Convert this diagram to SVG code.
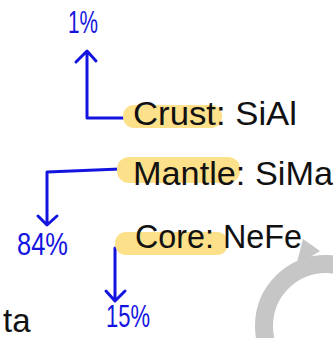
<svg xmlns="http://www.w3.org/2000/svg" width="333" height="338" viewBox="0 0 333 338">
<style>
.hl{fill:#fde08a}
.lbl{font-family:"Liberation Sans",Arial,sans-serif;font-size:33px;fill:#111}
.pct{font-family:"Liberation Sans",Arial,sans-serif;font-size:31px;fill:#1414e0}
.con{fill:none;stroke:#1414e0;stroke-width:3;stroke-linecap:round;stroke-linejoin:round}
</style>
<rect width="333" height="338" fill="#ffffff"/>
<g id="watermark" fill="#c6c6c6">
<path d="M303,239 L320,251 L296,266 Z"/>
<circle cx="326" cy="326" r="62" fill="none" stroke="#c6c6c6" stroke-width="18"/>
</g>
<g id="connectors">
<path class="con" d="M135,118 L87,118 L87,52 M76,62 L87,51 L96,61"/>
<path class="con" d="M120,169 L47,172 L47,224 M38,216 L47,225 L57,216"/>
<path class="con" d="M140,247 L115,248 L115,301 M106,291 L115,301 L125,291"/>
</g>
<g id="crust">
<rect class="hl" x="123" y="105" width="99" height="23" rx="11"/>
<text class="lbl" x="133" y="125" textLength="164" lengthAdjust="spacingAndGlyphs">Crust: SiAl</text>
</g>
<g id="mantle">
<rect class="hl" x="117" y="157" width="123" height="26" rx="12"/>
<text class="lbl" x="133" y="185" textLength="200" lengthAdjust="spacingAndGlyphs">Mantle: SiMa</text>
</g>
<g id="core">
<rect class="hl" x="115" y="232" width="113" height="23" rx="11"/>
<text class="lbl" x="135" y="248" textLength="167" lengthAdjust="spacingAndGlyphs">Core: NeFe</text>
</g>
<g id="p1"><text class="pct" x="68" y="33" textLength="30" lengthAdjust="spacingAndGlyphs">1%</text></g>
<g id="p84"><text class="pct" x="17" y="255" textLength="51" lengthAdjust="spacingAndGlyphs">84%</text></g>
<g id="p15"><text class="pct" x="106" y="327" textLength="44" lengthAdjust="spacingAndGlyphs">15%</text></g>
<g id="ta"><text class="lbl" x="3" y="332" font-size="29">ta</text></g>
</svg>
